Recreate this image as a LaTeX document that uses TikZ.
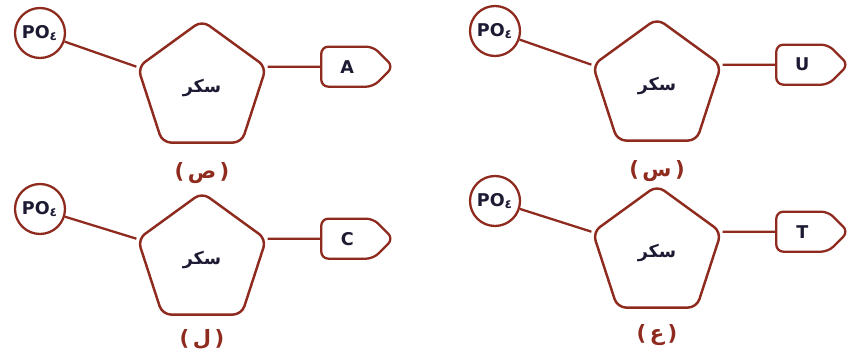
\documentclass[tikz,border=0pt]{standalone}
\usepackage{fontspec}
\setmainfont{DejaVu Sans}
\newfontfamily\arabicfont[Script=Arabic]{DejaVu Sans}
\TeXXeTstate=1
\usetikzlibrary{shapes.geometric,shapes.symbols,positioning}
\definecolor{rim}{HTML}{8E2A1E}
\definecolor{ink}{HTML}{1C1B33}

\begin{document}
\begin{tikzpicture}[
    x=0.02cm, y=-0.02cm,
    sugar/.style={draw=rim, line width=1.4pt, regular polygon, regular polygon sides=5, minimum size=2.7cm, rounded corners=5pt, font=\arabicfont\bfseries, text=ink},
    phos/.style={draw=rim, line width=1.3pt, circle, minimum size=1.0cm, inner sep=0pt, font=\bfseries, text=ink},
    base/.style={draw=rim, fill=white, line width=1.3pt, signal, signal to=east, signal pointer angle=90, rounded corners=4pt, minimum height=0.8cm, text width=0.6cm, inner xsep=0.22cm, align=center, font=\bfseries, text=ink},
    panel/.style={font=\large\bfseries, text=rim},
    link/.style={draw=rim, line width=1.3pt},
    node distance=1.05cm
  ]
    \useasboundingbox (0,0) rectangle (854,351);

    % (ص)
    \node[phos] (po1) at (40,33) {PO\textsubscript{٤}};
    \node[sugar] (su1) at (202,88) {\beginR سكر\endR};
    \node[base, right=of su1.corner 5] (ba1) {A};
    \node[panel, below=0.24cm of su1] (la1) {(\,{\arabicfont ص}\,)};
    \draw[link] (po1) -- (su1.corner 2);
    \draw[link] (su1.corner 5) -- (ba1);

    % (س)
    \node[phos] (po2) at (495,31) {PO\textsubscript{٤}};
    \node[sugar] (su2) at (657,86) {\beginR سكر\endR};
    \node[base, right=of su2.corner 5] (ba2) {U};
    \node[panel, below=0.24cm of su2] (la2) {(\,{\arabicfont س}\,)};
    \draw[link] (po2) -- (su2.corner 2);
    \draw[link] (su2.corner 5) -- (ba2);

    % (ل)
    \node[phos] (po3) at (40,209) {PO\textsubscript{٤}};
    \node[sugar] (su3) at (202,260) {\beginR سكر\endR};
    \node[base, right=of su3.corner 5] (ba3) {C};
    \node[panel, below=0.14cm of su3] (la3) {(\,{\arabicfont ل}\,)};
    \draw[link] (po3) -- (su3.corner 2);
    \draw[link] (su3.corner 5) -- (ba3);

    % (ع)
    \node[phos] (po4) at (495,201) {PO\textsubscript{٤}};
    \node[sugar] (su4) at (657,253) {\beginR سكر\endR};
    \node[base, right=of su4.corner 5] (ba4) {T};
    \node[panel, below=0.18cm of su4] (la4) {(\,{\arabicfont ع}\,)};
    \draw[link] (po4) -- (su4.corner 2);
    \draw[link] (su4.corner 5) -- (ba4);
  \end{tikzpicture}
\end{document}
